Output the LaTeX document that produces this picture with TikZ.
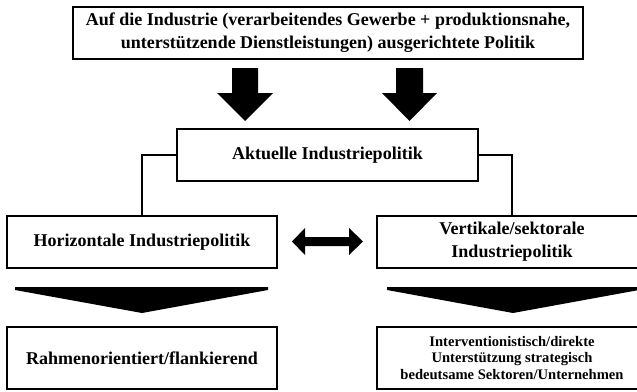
\documentclass[tikz,border=0pt]{standalone}
\usepackage{fontspec}
\setmainfont{Liberation Serif}
\tikzset{every picture/.style = {x=1pt, y=-1pt, line width=2.9pt}}
\tikzset{box/.style = {draw, rectangle, inner sep=0, align=center,
  font=\bfseries\fontsize{18}{23}\selectfont}}
\tikzset{wide/.style = {box, minimum width=270, minimum height=52}}
\tikzset{small/.style = {font=\bfseries\fontsize{14.6}{16.2}\selectfont}}

\begin{document}
\begin{tikzpicture}
  \useasboundingbox (0,0) rectangle (637,391);
  \node[box, minimum width=510, minimum height=52] (top) at (328,33)
    {Auf die Industrie (verarbeitendes Gewerbe + produktionsnahe,\\
     unterstützende Dienstleistungen) ausgerichtete Politik};
  \node[box, minimum width=301, minimum height=52] (akt) at (327.5,155)
    {Aktuelle Industriepolitik};
  \node[wide] (hor) at (142,242) {Horizontale Industriepolitik};
  \node[wide] (ver) at (512,242) {Vertikale/sektorale\\Industriepolitik};
  \node[wide, minimum height=62] (rahmen) at (142,358)
    {Rahmenorientiert/flankierend};
  \node[wide, small, minimum height=62] (inter) at (512,358)
    {Interventionistisch/direkte\\Unterstützung strategisch\\
     bedeutsame Sektoren/Unternehmen};
  \draw (akt.west) -| (hor.north);
  \draw (akt.east) -| (ver.north);
  % arrows from the top box
  \fill (232,68) -- (258,68) -- (258,93) -- (273,93) -- (245,121)
    -- (217,93) -- (232,93) -- cycle;
  \fill (396,68) -- (423,68) -- (423,93) -- (437,93) -- (409.5,121)
    -- (382,93) -- (396,93) -- cycle;
  % between horizontal and vertical
  \fill (292,241.5) -- (305,228) -- (305,237) -- (349,237) -- (349,228)
    -- (363,241.5) -- (349,255) -- (349,246) -- (305,246) -- (305,255) -- cycle;
  % wedges
  \fill (15,287) -- (268,287) -- (268,290) -- (142,313) -- (15,290) -- cycle;
  \fill (387,287) -- (639,287) -- (639,290) -- (513,313) -- (387,290) -- cycle;
\end{tikzpicture}
\end{document}
